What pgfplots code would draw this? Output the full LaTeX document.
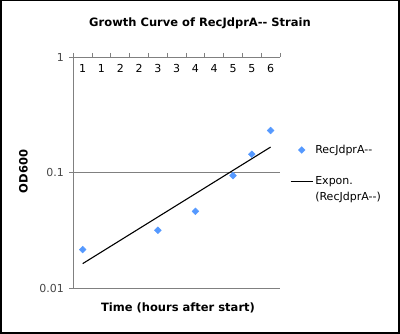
\documentclass[border=0pt]{standalone}
\usepackage{fontspec}
\setmainfont{DejaVu Sans}
\usepackage{pgfplots}
\pgfplotsset{compat=1.18}
\definecolor{markblue}{RGB}{85,153,255}
\definecolor{axgray}{RGB}{128,128,128}
\definecolor{lblgray}{RGB}{70,70,70}
\begin{document}
\begin{tikzpicture}[x=1pt,y=1pt]
\useasboundingbox (0,0) rectangle (400,334);
\draw[black, line width=1.5pt] (0.75,0.75) rectangle (398.75,333.25);
\node[anchor=base, font=\fontsize{11.5}{13}\selectfont\bfseries] at (200,307) {Growth Curve of RecJdprA-{}- Strain};
\node[anchor=base, font=\fontsize{11.5}{13}\selectfont\bfseries] at (178,22) {Time (hours after start)};
\node[rotate=90, font=\fontsize{11.5}{13}\selectfont\bfseries] at (23.5,162.5) {OD600};
\begin{axis}[
  at={(73.3pt,46pt)}, anchor=south west,
  scale only axis, width=206.7pt, height=231pt,
  ymode=log, ymin=0.01, ymax=1,
  xmin=0, xmax=5.5,
  axis x line*=top, axis y line*=left,
  axis line style={draw=axgray, line width=0.9pt},
  xtick={0,0.5,...,5.5},
  xticklabels={1,1,2,2,3,3,4,4,5,5,6,},
  xticklabel pos=upper,
  x tick label style={anchor=north, xshift=9.4pt, yshift=-8pt, font=\fontsize{11}{12}\selectfont, text=black},
  ytick={0.01,0.1,1},
  yticklabels={0.01,0.1,1},
  y tick label style={font=\fontsize{11}{12}\selectfont, text=lblgray, xshift=-2pt},
  yminorticks=false, xminorticks=false,
  tick align=outside,
  major tick length=4pt,
  tick style={draw=axgray, line width=0.9pt},
  ymajorgrids=true,
  grid style={draw=axgray, line width=0.9pt},
  legend style={draw=none, fill=none, at={(1.0,0.637)}, anchor=north west, xshift=7pt,
    font=\fontsize{11}{16}\selectfont, legend cell align=left,
    nodes={align=left, text=black}, row sep=17.5pt},
]
\addplot[only marks, mark=square*, mark size=2.4pt, mark options={rotate=45, fill=markblue, draw=markblue}]
  coordinates {(0.25,0.0215) (2.25,0.0316) (3.25,0.0461) (4.25,0.094) (4.75,0.144) (5.25,0.231)};
\addlegendentry{RecJdprA-{}-}
\addplot[black, line width=1.1pt, legend image code/.code={\draw[black, line width=1.1pt] (-2.5pt,8pt) -- (19.5pt,8pt);}]
  coordinates {(0.25,0.01626) (5.25,0.166)};
\addlegendentry{Expon.\\(RecJdprA-{}-)}
\end{axis}
\end{tikzpicture}
\end{document}
